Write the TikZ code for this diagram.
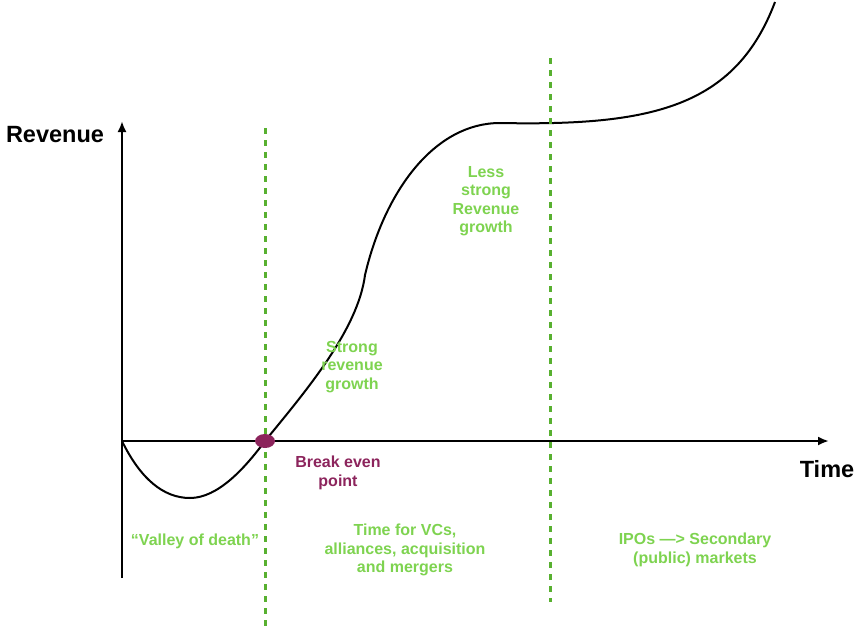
\documentclass[tikz,border=0pt]{standalone}
\usepackage{fontspec}
\setmainfont{Liberation Sans}
\usetikzlibrary{arrows.meta,shapes.geometric}
\definecolor{labelgreen}{RGB}{126,211,80}
\definecolor{linegreen}{RGB}{88,176,48}
\definecolor{plum}{RGB}{140,36,92}
\begin{document}
\begin{tikzpicture}[x=1pt, y=-1pt,
  axis/.style={line width=2.6pt, -{Latex[length=11pt,width=9pt]}},
  phase/.style={draw=linegreen, line width=3pt, dash pattern=on 6pt off 6pt},
  note/.style={text=labelgreen, font=\bfseries\fontsize{16}{18.5}\selectfont, align=center},
  axislabel/.style={font=\bfseries\fontsize{23.5}{27}\selectfont}]
\useasboundingbox (0,0) rectangle (861,627);
% axes
\coordinate (origin) at (122,441);
\coordinate (ytop) at (122,121);
\coordinate (ybot) at (122,578);
\coordinate (xend) at (829,441);
\draw[axis] (ybot) -- (ytop);
\draw[axis] (origin) -- (xend);
\node (revenue) [axislabel] at (55,135) {Revenue};
\node (time) [axislabel] at (827,469) {Time};
% revenue curve
\draw[line width=2pt] (origin) .. controls (140,478) and (163,498) .. (190,498)
  .. controls (218,498) and (245,468) .. (265,441)
  .. controls (305,392) and (358,330) .. (365,275)
  .. controls (385,190) and (435,123) .. (500,123)
  .. controls (650,126) and (735,108) .. (775,2);
% phase boundaries
\coordinate (p1top) at (265,128);
\coordinate (p1bot) at (265,627);
\coordinate (p2top) at (550,58);
\coordinate (p2bot) at (550,602);
\draw[phase] (p1top) -- (p1bot);
\draw[phase] (p2top) -- (p2bot);
\node (breakeven) [ellipse, fill=plum, minimum width=20pt, minimum height=14pt, inner sep=0pt] at (265,441) {};
% labels
\node (strong) [note] at (352,367) {Strong\\revenue\\growth};
\node (bepoint) [note, text=plum] at (338,473) {Break even\\point};
\node (lessstrong) [note] at (486,201) {Less\\strong\\Revenue\\growth};
\node (valley) [note] at (195,541) {“Valley of death”};
\node (vcs) [note] at (405,550) {Time for VCs,\\alliances, acquisition\\and mergers};
\node (ipos) [note] at (695,550) {IPOs —> Secondary\\(public) markets};
\end{tikzpicture}
\end{document}
